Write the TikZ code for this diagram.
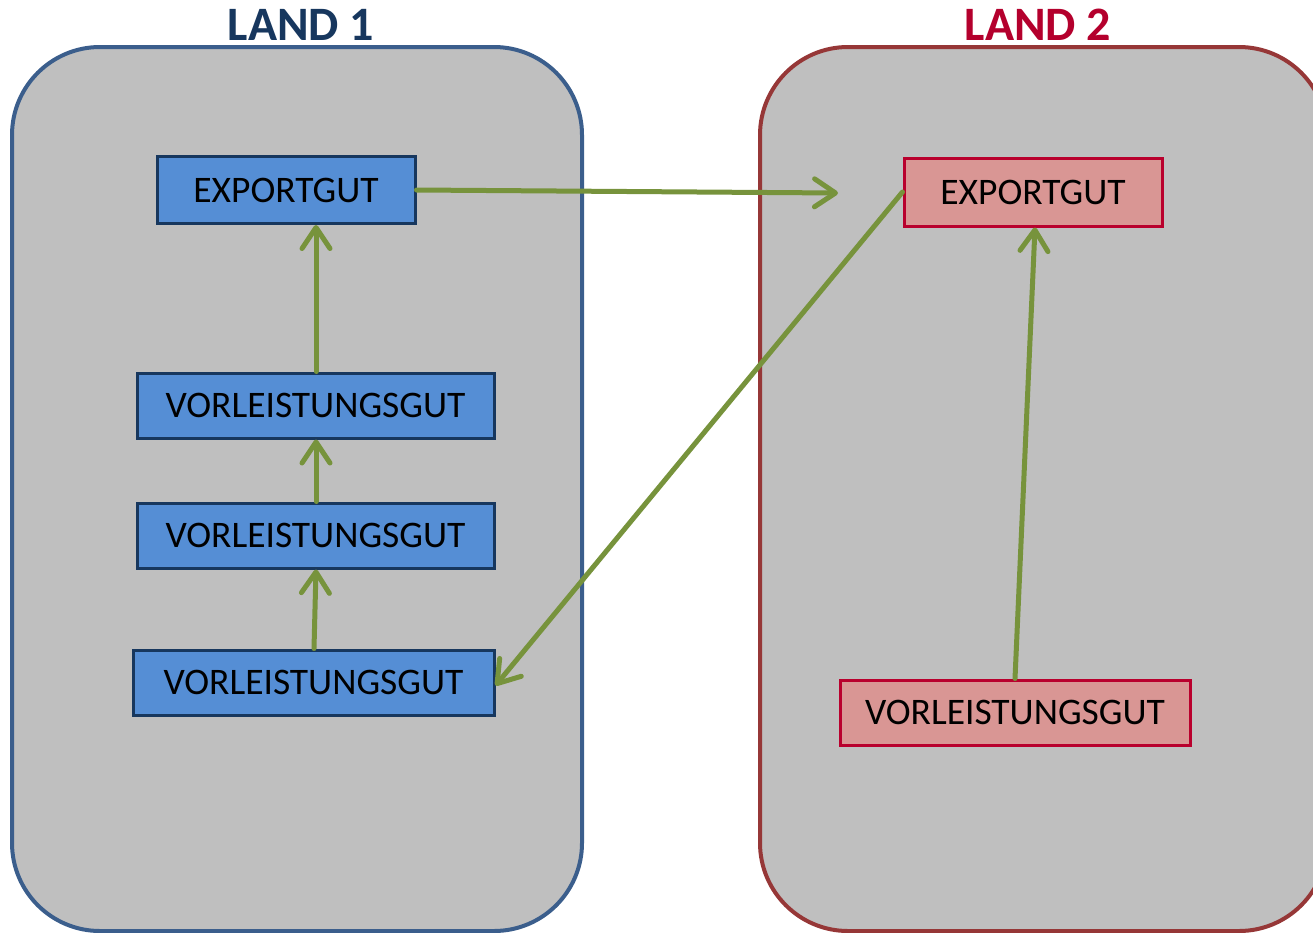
\documentclass[tikz,border=0pt]{standalone}
\usepackage{fontspec}
\setmainfont{Carlito}
\usetikzlibrary{arrows.meta}
\definecolor{boxfill}{RGB}{191,191,191}
\definecolor{landblue}{RGB}{59,94,140}
\definecolor{landred}{RGB}{150,55,55}
\definecolor{titleblue}{RGB}{23,55,94}
\definecolor{titlered}{RGB}{180,0,45}
\definecolor{nodeblue}{RGB}{85,142,213}
\definecolor{nodeblueline}{RGB}{23,55,94}
\definecolor{nodered}{RGB}{217,150,148}
\definecolor{noderedline}{RGB}{185,0,45}
\definecolor{arrgreen}{RGB}{119,147,60}
\tikzset{
  land/.style={line width=4pt, fill=boxfill, rounded corners=88pt},
  bluebox/.style={draw=nodeblueline, fill=nodeblue, line width=3pt, inner sep=0pt, font=\fontsize{37.5}{44}\selectfont},
  redbox/.style={draw=noderedline, fill=nodered, line width=3pt, inner sep=0pt, font=\fontsize{37.5}{44}\selectfont},
  titletext/.style={font=\fontsize{48}{54}\selectfont\bfseries, inner sep=0pt},
  flow/.style={draw=arrgreen, line width=5pt, line cap=round, -{Straight Barb[length=21pt,width=28pt,line cap=round,line join=round]}}
}
\begin{document}
\begin{tikzpicture}[x=1pt,y=-1pt]
\useasboundingbox (0,0) rectangle (1313,932);
\clip (0,0) rectangle (1313,932);
\draw[land, draw=landblue] (12,47) rectangle (582,931);
\draw[land, draw=landred] (760,47) rectangle (1327,931);
\node[titletext, text=titleblue] (t1) at (301,25) {LAND 1};
\node[titletext, text=titlered] (t2) at (1038,25) {LAND 2};
\node[bluebox, minimum width=258pt, minimum height=67pt] (e1) at (286,190) {EXPORTGUT};
\node[bluebox, minimum width=357pt, minimum height=65pt] (v1) at (315.5,405.5) {VORLEISTUNGSGUT};
\node[bluebox, minimum width=357pt, minimum height=65pt] (v2) at (315.5,535.5) {VORLEISTUNGSGUT};
\node[bluebox, minimum width=361pt, minimum height=65pt] (v3) at (313.5,682.5) {VORLEISTUNGSGUT};
\node[redbox, minimum width=258pt, minimum height=68pt] (e2) at (1033,192) {EXPORTGUT};
\node[redbox, minimum width=350pt, minimum height=65pt] (w1) at (1015,712.5) {VORLEISTUNGSGUT};
\coordinate (free) at (838,193);
\draw[flow] (e1.east) -- (free);
\draw[flow] (e2.west) -- ([yshift=-3pt]v3.east);
\draw[flow] (v1.north -| 316,0) -- (e1.south -| 316,0);
\draw[flow] (v2.north -| 316,0) -- (v1.south -| 316,0);
\draw[flow] (v3.north -| 314,0) -- (v2.south -| 316,0);
\draw[flow] (w1.north) -- (e2.south -| 1035,0);
\end{tikzpicture}
\end{document}
